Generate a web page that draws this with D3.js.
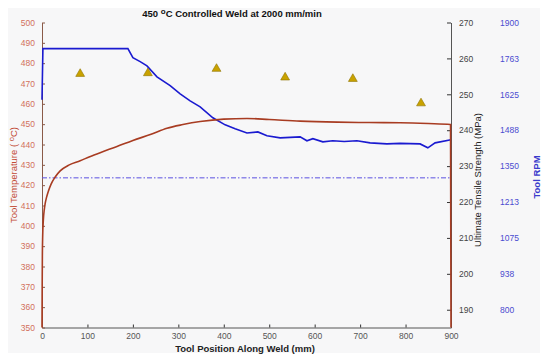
<!DOCTYPE html>
<html>
<head>
<meta charset="utf-8">
<script src="https://cdn.jsdelivr.net/npm/d3@7/dist/d3.min.js"></script>
<style>
  body { margin: 0; background: #fff; }
  text { font-family: "Liberation Sans", Arial, sans-serif; }
</style>
</head>
<body>
<div id="chart1"></div>
<script>
var width = 550;
var height = 363;

// plot area ranges
var rangeX = [42, 451];
var rangeY = [327.5, 22.5];

// tool temperature (deg C) along weld
var tempPos = [0, 0.4, 0.8, 1.5, 3, 5, 7, 10, 14, 20, 29, 40, 60, 84, 105, 128, 165, 200, 240, 275, 310, 348, 400, 451, 500, 568, 650, 720, 788, 850, 899, 900];
var tempVal = [350, 370, 385, 395, 403, 408, 411, 414, 417, 420.5, 424, 427, 430, 432, 434, 436, 439, 442, 445, 448, 449.8, 451.3, 452.5, 452.8, 452.3, 451.5, 451, 450.8, 450.7, 450.3, 449.8, 350];

// tool RPM along weld
var rpmPos = [0, 2, 189, 200, 216, 231, 253, 282, 304, 326, 348, 376, 403, 425, 451, 475, 495, 524, 568, 583, 596, 618, 640, 665, 693, 722, 759, 788, 832, 849, 865, 900];
var rpmVal = [1604, 1800, 1800, 1765, 1750, 1734, 1692, 1658, 1627, 1600, 1577, 1535, 1508, 1493, 1477, 1481, 1466, 1458, 1462, 1447, 1455, 1443, 1447, 1444, 1447, 1439, 1435, 1437, 1435, 1420, 1439, 1451];

// ultimate tensile strength samples
var utsPos = [84, 233, 384, 535, 684, 834];
var utsVal = [255.7, 255.9, 257.1, 254.7, 254.3, 247.5];

// dash-dot reference level (RPM)
var refRpm = 1305;

var xTicks = [0, 100, 200, 300, 400, 500, 600, 700, 800, 900];
var tempTicks = [350, 360, 370, 380, 390, 400, 410, 420, 430, 440, 450, 460, 470, 480, 490, 500];
var utsTicks = [190, 200, 210, 220, 230, 240, 250, 260, 270];
var rpmTicks = [800, 938, 1075, 1213, 1350, 1488, 1625, 1763, 1900];

var x = d3.scaleLinear().domain([0, 900]).range(rangeX);
var yTemp = d3.scaleLinear().domain([350, 500]).range(rangeY);
var yUts = d3.scaleLinear().domain([185.05, 270]).range(rangeY);
// rpm axis is tied to the uts axis: 190 <-> 800, 270 <-> 1900
var yRpm = d3.scaleLinear().domain([731.9, 1900]).range(rangeY);

var svg = d3.select("#chart1").append("svg")
  .attr("width", width)
  .attr("height", height);

svg.append("rect")
  .attr("x", 8).attr("y", 8)
  .attr("width", 532).attr("height", 345)
  .attr("fill", "#f7f7f8");

// title
var title = svg.append("text")
  .attr("x", 232).attr("y", 17)
  .attr("text-anchor", "middle")
  .attr("font-size", "9.5px")
  .attr("font-weight", "bold")
  .attr("fill", "#111");
title.append("tspan").text("450 ");
title.append("tspan").attr("dy", -3).attr("font-size", "8px").text("o");
title.append("tspan").attr("dy", 3).text("C Controlled Weld at 2000 mm/min");

// x axis
var xAxis = d3.axisBottom(x).tickValues(xTicks).tickSizeInner(-3).tickSizeOuter(0).tickPadding(5);
var gx = svg.append("g")
  .attr("transform", "translate(0," + rangeY[0] + ")")
  .call(xAxis);
gx.select(".domain").attr("stroke", "#555");
gx.selectAll(".tick line").attr("stroke", "#333");
gx.selectAll(".tick text").attr("fill", "#555").attr("font-size", "8.5px").attr("font-family", "Liberation Sans, Arial");

svg.append("text")
  .attr("x", 245).attr("y", 352)
  .attr("text-anchor", "middle")
  .attr("font-size", "9.5px")
  .attr("font-weight", "bold")
  .attr("fill", "#222")
  .text("Tool Position Along Weld (mm)");

// left temperature axis
var yAxisL = d3.axisLeft(yTemp).tickValues(tempTicks).tickSizeInner(-3).tickSizeOuter(0).tickPadding(7);
var gl = svg.append("g")
  .attr("transform", "translate(" + rangeX[0] + ",0)")
  .call(yAxisL);
gl.select(".domain").attr("stroke", "#8a5a48");
gl.selectAll(".tick line").attr("stroke", "#8a5a48");
gl.selectAll(".tick text").attr("fill", "#d2705c").attr("font-size", "8.5px").attr("font-family", "Liberation Sans, Arial");

var tl = svg.append("text")
  .attr("transform", "translate(17,175)rotate(-90)")
  .attr("text-anchor", "middle")
  .attr("font-size", "9.5px")
  .attr("fill", "#c24a35");
tl.append("tspan").text("Tool Temperature ( ");
tl.append("tspan").attr("dy", -3).attr("font-size", "7.5px").text("o");
tl.append("tspan").attr("dy", 3).text("C)");

// right tensile axis
var yAxisR = d3.axisRight(yUts).tickValues(utsTicks).tickSizeInner(-4).tickSizeOuter(0).tickPadding(8);
var gr = svg.append("g")
  .attr("transform", "translate(" + rangeX[1] + ",0)")
  .call(yAxisR);
gr.select(".domain").attr("stroke", "#555");
gr.selectAll(".tick line").attr("stroke", "#333");
gr.selectAll(".tick text").attr("fill", "#444").attr("font-size", "8.5px").attr("font-family", "Liberation Sans, Arial");

svg.append("text")
  .attr("transform", "translate(481,180)rotate(-90)")
  .attr("text-anchor", "middle")
  .attr("font-size", "9.5px")
  .attr("fill", "#222")
  .text("Ultimate Tensile Strength (MPa)");

// rpm axis (labels only)
var yAxisRpm = d3.axisRight(yRpm).tickValues(rpmTicks).tickFormat(d3.format("d")).tickSize(0).tickPadding(0);
var grpm = svg.append("g")
  .attr("transform", "translate(500,0)")
  .call(yAxisRpm);
grpm.select(".domain").remove();
grpm.selectAll(".tick text").attr("fill", "#4b4bd0").attr("font-size", "8.5px").attr("font-family", "Liberation Sans, Arial");

svg.append("text")
  .attr("transform", "translate(540,177)rotate(-90)")
  .attr("text-anchor", "middle")
  .attr("font-size", "9.5px")
  .attr("font-weight", "bold")
  .attr("fill", "#3a3acc")
  .text("Tool RPM");

// reference dash-dot line
svg.append("line")
  .attr("x1", x(0)).attr("x2", x(900))
  .attr("y1", yRpm(refRpm)).attr("y2", yRpm(refRpm))
  .attr("stroke", "#5a50e0")
  .attr("stroke-width", 1)
  .attr("stroke-dasharray", "5,2,1.5,2");

// rpm line
var rpmData = rpmPos.map(function (p, i) { return [p, rpmVal[i]]; });
svg.append("path")
  .datum(rpmData)
  .attr("fill", "none")
  .attr("stroke", "#1a1ad0")
  .attr("stroke-width", 1.6)
  .attr("d", d3.line().x(function (d) { return x(d[0]); }).y(function (d) { return yRpm(d[1]); }));

// temperature line
var tempData = tempPos.map(function (p, i) { return [p, tempVal[i]]; });
svg.append("path")
  .datum(tempData)
  .attr("fill", "none")
  .attr("stroke", "#a83c22")
  .attr("stroke-width", 1.6)
  .attr("d", d3.line().curve(d3.curveMonotoneX).x(function (d) { return x(d[0]); }).y(function (d) { return yTemp(d[1]); }));

// uts triangles
var tri = d3.symbol().type(d3.symbolTriangle).size(34);
svg.selectAll(".uts")
  .data(utsPos)
  .enter()
  .append("path")
  .attr("class", "uts")
  .attr("d", tri)
  .attr("transform", function (d, i) { return "translate(" + x(d) + "," + yUts(utsVal[i]) + ")"; })
  .attr("fill", "#c9a200")
  .attr("stroke", "#8f7400")
  .attr("stroke-width", 0.6);
</script>
</body>
</html>
